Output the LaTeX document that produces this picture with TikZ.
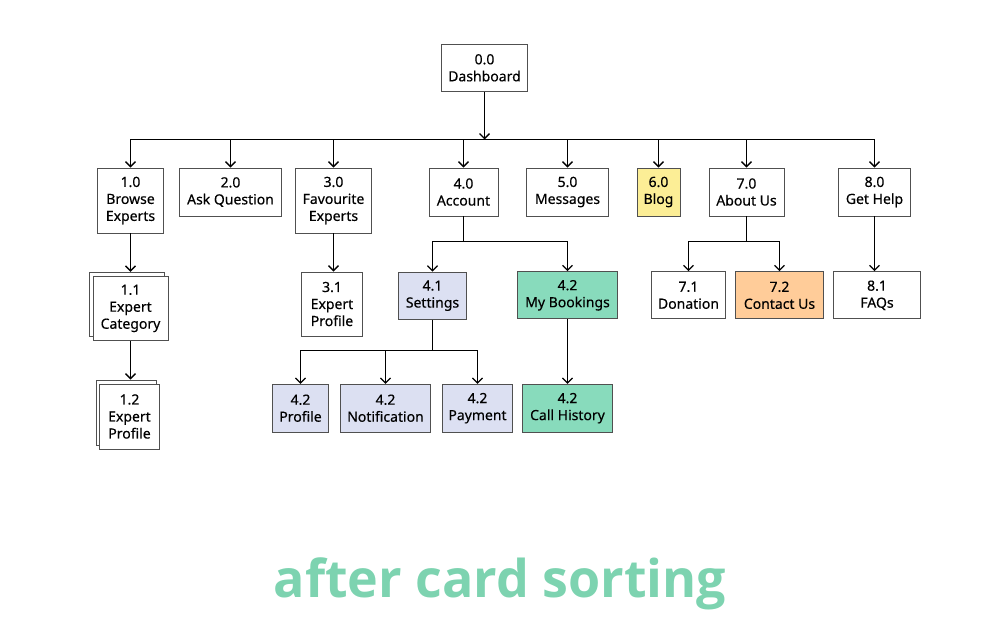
\documentclass[tikz,border=0pt]{standalone}
\usepackage{fontspec}
\setmainfont{Noto Sans}[FakeBold=0.35]
\newfontfamily\titlefont{Open Sans}
\usetikzlibrary{arrows.meta}
\definecolor{lav}{HTML}{DCE0F2}
\definecolor{mint}{HTML}{88DBBC}
\definecolor{sun}{HTML}{FCEE96}
\definecolor{peach}{HTML}{FFCC99}
\definecolor{edge}{HTML}{505050}
\definecolor{ttl}{HTML}{7DD3B0}
\tikzset{
  box/.style={draw=edge, line width=0.9pt, fill=white, align=center, inner sep=0pt,
    font=\fontsize{14}{17}\selectfont, text=black},
  wire/.style={line width=1.35pt, black},
  arr/.style={wire, -{Straight Barb[length=5pt,width=10pt,line width=1.3pt]}},
}
\newcommand{\bx}[6]{\node[box,#1,minimum width=#4pt,minimum height=#5pt] (#2) at (#3) {#6};}
\begin{document}
\begin{tikzpicture}[x=1pt,y=-1pt]
\useasboundingbox (0,0) rectangle (1004,636);
% level 0
\bx{}{d0}{484.5,67.8}{86.5}{47.5}{0.0\\Dashboard}
% level 1
\bx{}{n1}{130.5,200.5}{66.7}{65}{1.0\\Browse\\Experts}
\bx{}{n2}{230.5,192}{102}{48}{2.0\\Ask Question}
\bx{}{n3}{333.5,200.5}{76}{65}{3.0\\Favourite\\Experts}
\bx{}{n4}{463.5,192}{69}{48}{4.0\\Account}
\bx{}{n5}{567.5,192}{81.6}{48}{5.0\\Messages}
\bx{fill=sun}{n6}{658.5,192}{43}{48}{6.0\\Blog}
\bx{}{n7}{746.5,192}{75}{48}{7.0\\About Us}
\bx{}{n8}{874.5,192}{71.3}{48}{8.0\\Get Help}
% stacked cards
\bx{}{n11b}{126.5,304.5}{75}{64.5}{}
\bx{}{n11}{130.5,308.4}{75}{64.5}{1.1\\Expert\\Category}
\bx{}{n12b}{126,412.5}{60}{65}{}
\bx{}{n12}{129.5,416.5}{60}{65}{1.2\\Expert\\Profile}
% level 2
\bx{}{n31}{332,304}{60.6}{64}{3.1\\Expert\\Profile}
\bx{fill=lav}{n41}{432.5,295.7}{68.3}{47.3}{4.1\\Settings}
\bx{fill=mint}{n42}{567.5,295.3}{99.4}{47.3}{4.2\\My Bookings}
\bx{}{n71}{688.5,295.3}{73.3}{47.3}{7.1\\Donation}
\bx{fill=peach}{n72}{779.5,295.3}{87.7}{47.3}{7.2\\Contact Us}
\bx{}{n81}{877,295.3}{87.4}{47.3}{8.1\\FAQs}
% level 3
\bx{fill=lav}{p1}{300.5,408.2}{55.7}{47.7}{4.2\\Profile}
\bx{fill=lav}{p2}{385.5,408.2}{90.7}{47.7}{4.2\\Notification}
\bx{fill=lav}{p3}{477.5,408.2}{70.6}{47.7}{4.2\\Payment}
\bx{fill=mint}{p4}{567.5,408.2}{90}{47.7}{4.2\\Call History}
% connectors
\coordinate (bus) at (0,139.5);
\draw[arr] (d0.south) -- (d0.south |- bus);
\draw[wire] (n1.north |- bus) -- (n8.north |- bus);
\foreach \n in {n1,n2,n3,n4,n5,n6,n7,n8}{\draw[arr] (\n.north |- bus) -- (\n.north);}
\draw[arr] (n1.south) -- (n11b.north -| n1.south);
\draw[arr] (n11.south -| n1.south) -- (n12b.north -| n1.south);
\draw[arr] (n3.south) -- (n31.north -| n3.south);
\coordinate (j4) at (463.5,241.5);
\draw[wire] (n4.south) -- (j4);
\draw[arr] (j4) -| (n41.north);
\draw[arr] (j4) -| (n42.north);
\coordinate (j41) at (432.5,350.5);
\draw[wire] (n41.south) -- (j41);
\draw[arr] (j41) -| (p1.north);
\draw[arr] (j41) -| (p2.north);
\draw[arr] (j41) -| (p3.north);
\draw[arr] (n42.south) -- (p4.north);
\coordinate (j7) at (746.5,241.5);
\draw[wire] (n7.south) -- (j7);
\draw[arr] (j7) -| (n71.north);
\draw[arr] (j7) -| (n72.north);
\draw[arr] (n8.south) -- (n81.north -| n8.south);
% title
\node[anchor=base, font=\titlefont\bfseries\fontsize{52}{60}\selectfont, text=ttl, inner sep=0pt] (title) at (500,597) {after card sorting};
\end{tikzpicture}
\end{document}
